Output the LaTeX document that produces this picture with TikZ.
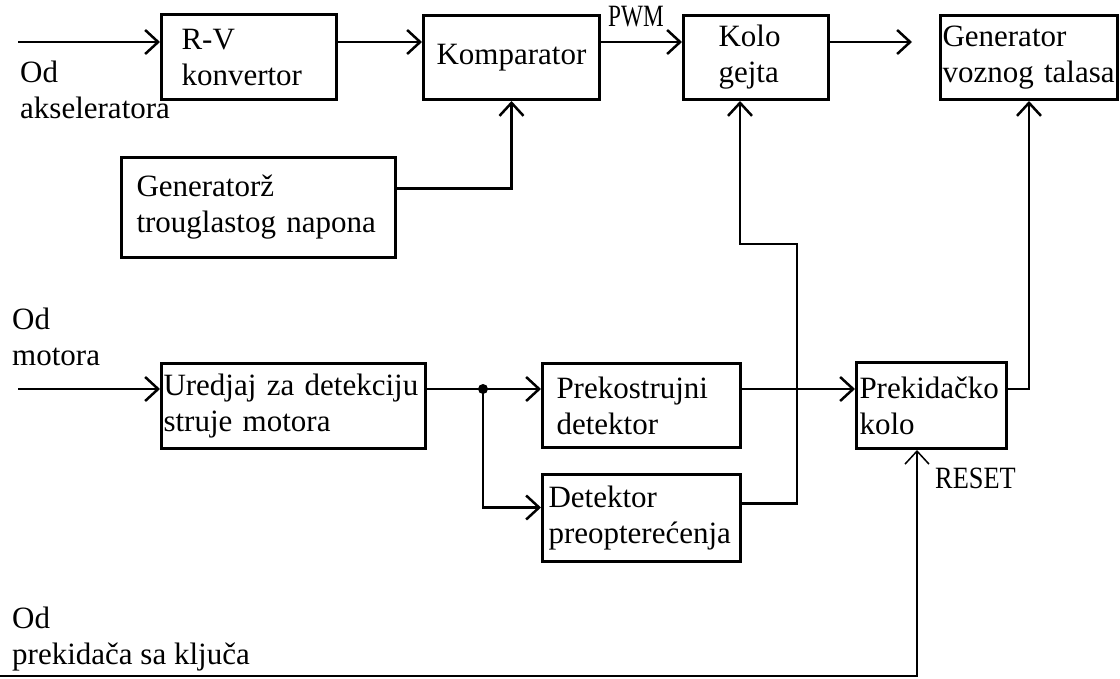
\documentclass[tikz,border=0pt]{standalone}
\usepackage{fontspec}
\setmainfont{Liberation Serif}
\usetikzlibrary{arrows.meta,positioning}
\tikzset{
  box/.style={rectangle, draw, line width=3pt, anchor=north west, align=left, inner ysep=0pt, font=\fontsize{31}{36}\selectfont},
  lbl/.style={anchor=base west, align=left, inner sep=0pt, font=\fontsize{31}{36}\selectfont},
  arr/.style={-{Straight Barb[length=13pt, width=24pt]}, line width=2.5pt},
  thinarr/.style={arr, line width=1.5pt},
  wire/.style={line width=2.5pt}
}

\begin{document}
\begin{tikzpicture}[x=1pt, y=-1pt]
\useasboundingbox (0,0) rectangle (1120,678);

% upper row
\node[box, text width=135pt, inner xsep=20pt, minimum height=85pt] (rv) at (160,13) {R-V\\konvertor};
\node[box, align=center, text width=160pt, inner xsep=8pt, minimum height=84pt] (komp) at (422,14) {Komparator};
\node[box, text width=75pt, inner xsep=35pt, minimum height=84pt] (kolo) at (682,14) {Kolo\\gejta};
\node[box, text width=173pt, inner xsep=2pt, minimum height=84pt] (gvt) at (939,14) {Generator\\voznog talasa};
\node[box, text width=244pt, inner xsep=15pt, minimum height=100pt] (gtn) at (120,156) {Generatorž\\trouglastog napona};

% lower row
\node[box, text width=260pt, inner xsep=2pt, minimum height=85pt] (ured) at (160,362) {Uredjaj za detekciju\\struje motora};
\node[box, text width=170pt, inner xsep=14pt, minimum height=84pt] (prek) at (541,362) {Prekostrujni\\detektor};
\node[box, text width=186pt, inner xsep=6pt, minimum height=87pt] (det) at (541,473) {Detektor\\preopterećenja};
\node[box, text width=144pt, inner xsep=3pt, minimum height=86pt] (pkol) at (855,361) {Prekidačko\\kolo};

% labels (base = last line)
\node[lbl] (odaks) at (20,118) {Od\\akseleratora};
\node[lbl] (odmot) at (12,365) {Od\\motora};
\node[lbl] (odklj) at (12,664) {Od\\prekidača sa ključa};
\node[lbl] (pwm) at (608,26) {\scalebox{0.75}[1]{PWM}};
\node[lbl] (reset) at (935,488) {\scalebox{0.85}[1]{RESET}};

\coordinate (a1) at (18,42);
\coordinate (m1) at (18,389);
\coordinate (jn) at (483,389);
\coordinate (k1) at (797,244);
\coordinate (k2) at (740,244);
\coordinate (b1) at (0,676);
\coordinate (b2) at (917,676);

\draw[arr] (a1) -- (a1 -| rv.west);
\draw[arr] (a1 -| rv.east) -- (a1 -| komp.west);
\draw[arr] (a1 -| komp.east) -- (a1 -| kolo.west);
\draw[arr, shorten >=27pt] (a1 -| kolo.east) -- (a1 -| gvt.west);
\draw[arr] ([yshift=19pt]gtn.east) -| (komp.south);

\draw[arr] (m1) -- (m1 -| ured.west);
\draw[wire] (m1 -| ured.east) -- (jn);
\fill (jn) circle (5pt);
\draw[arr] (jn) -- (jn -| prek.west);
\draw[arr] (jn) |- ([yshift=10.5pt]det.west);
\draw[arr] (m1 -| prek.east) -- (m1 -| pkol.west);
\draw[arr] (m1 -| pkol.east) -| (gvt.south);
\draw[arr] ([yshift=14.5pt]det.east) -| (k1) -- (k2) -- (k2 |- kolo.south);

\draw[thinarr] (b1) -- (b2) -- (b2 |- pkol.south);
\end{tikzpicture}
\end{document}
